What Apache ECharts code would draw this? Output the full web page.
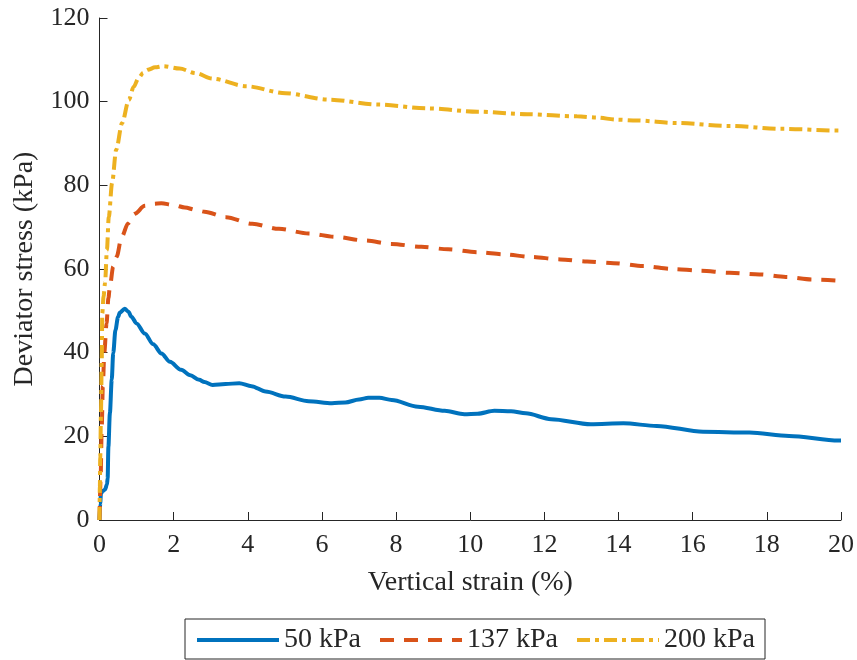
<!DOCTYPE html>
<html>
<head>
<meta charset="utf-8">
<script src="https://cdn.jsdelivr.net/npm/echarts@6/dist/echarts.min.js"></script>
<style>
  html, body { margin: 0; padding: 0; background: #fff; }
  #chart { width: 857px; height: 660px; }
</style>
</head>
<body>
<div id="chart"></div>
<script>
// Deviator stress (kPa) against vertical strain (%) for three confining pressures
const seriesNames = ['50 kPa', '137 kPa', '200 kPa'];

const strain50 = [0, 0.02, 0.04, 0.1, 0.15, 0.2, 0.22, 0.24, 0.28, 0.33, 0.37, 0.43, 0.5, 0.55, 0.68, 0.78, 0.86, 1.0, 1.22, 1.45, 1.67, 1.9, 2.2, 2.45, 2.69, 2.83, 3.05, 3.4, 3.77, 4.1, 4.48, 5.02, 5.64, 6.27, 6.63, 7.0, 7.25, 7.55, 7.88, 8.59, 9.31, 9.84, 10.2, 10.65, 11.1, 11.5, 12.18, 13.25, 14.13, 15.03, 16.28, 17.53, 18.6, 19.94, 20];
const stress50 = [0, 4, 6.4, 7, 7.3, 8.5, 10, 17.5, 25.5, 33.5, 39.9, 45.4, 48.5, 49.6, 50.5, 49.8, 48.6, 47, 44.6, 42, 39.8, 37.8, 35.9, 34.6, 33.5, 33.0, 32.3, 32.5, 32.7, 32, 30.7, 29.5, 28.4, 27.9, 28.1, 28.8, 29.2, 29.2, 28.7, 27.1, 26.1, 25.3, 25.4, 26.1, 26, 25.5, 24.1, 22.9, 23.1, 22.5, 21.1, 20.9, 20.1, 19.0, 19.0];

const strain137 = [0, 0.03, 0.06, 0.09, 0.13, 0.19, 0.24, 0.28, 0.37, 0.46, 0.6, 0.77, 0.95, 1.22, 1.45, 1.67, 2.0, 2.3, 2.61, 2.83, 3.41, 4.12, 4.84, 5.64, 6.36, 7.16, 7.88, 8.68, 9.4, 10.2, 10.92, 11.63, 12.43, 13.15, 13.87, 14.67, 15.47, 16.19, 16.99, 17.8, 18.51, 19.23, 20];
const stress137 = [0, 10, 22, 32, 40, 47, 53, 55.8, 60.6, 62.9, 67.7, 70.9, 73.2, 75.1, 75.6, 75.7, 75.3, 74.7, 74.1, 73.7, 72.4, 70.8, 69.6, 68.5, 67.7, 66.8, 66, 65.3, 64.7, 64, 63.5, 62.9, 62.3, 61.8, 61.4, 60.7, 60, 59.6, 59.1, 58.7, 58.1, 57.5, 57.2];

const strain200 = [0, 0.01, 0.02, 0.04, 0.06, 0.075, 0.11, 0.15, 0.2, 0.25, 0.34, 0.45, 0.61, 0.79, 0.92, 1.05, 1.18, 1.3, 1.5, 1.72, 2.16, 2.6, 3.05, 3.95, 5.02, 6.18, 7.52, 8.86, 10.2, 11.54, 12.88, 13.42, 13.95, 14.49, 15.56, 16.99, 18.42, 19.94, 20];
const stress200 = [0, 8, 15, 25.6, 38, 49.4, 53.5, 56.7, 64.5, 72.4, 80.6, 88.5, 94.9, 100.4, 103.5, 105.6, 106.9, 107.6, 108.2, 108.5, 107.9, 106.8, 105.5, 103.7, 102, 100.5, 99.3, 98.4, 97.6, 97, 96.5, 96.2, 95.7, 95.5, 94.9, 94.2, 93.5, 93.1, 93.0];

const xTicks = { min: 0, max: 20, interval: 2 };
const yTicks = { min: 0, max: 120, interval: 20 };

const pair = (xs, ys) => xs.map((x, i) => [x, ys[i]]);

const serif = '"Liberation Serif", "DejaVu Serif", serif';
const ink = '#262626';
const colors = ['#0072BD', '#D95319', '#EDB120'];
const dashes = ['solid', [14, 10], [13, 5, 4, 5]];

const chart = echarts.init(document.getElementById('chart'), null, { renderer: 'canvas' });

chart.setOption({
  animation: false,
  backgroundColor: '#ffffff',
  grid: { left: 99.5, right: 12, top: 18, bottom: 140, containLabel: false },
  xAxis: {
    type: 'value',
    min: xTicks.min, max: xTicks.max, interval: xTicks.interval,
    name: 'Vertical strain (%)',
    nameLocation: 'middle',
    nameGap: 49,
    nameTextStyle: { fontFamily: serif, fontSize: 28, color: ink },
    axisLine: { show: true, lineStyle: { color: ink, width: 1 } },
    axisTick: { show: true, inside: true, length: 8, lineStyle: { color: ink } },
    axisLabel: { fontFamily: serif, fontSize: 26, color: ink, margin: 12 },
    splitLine: { show: false }
  },
  yAxis: {
    type: 'value',
    min: yTicks.min, max: yTicks.max, interval: yTicks.interval,
    name: 'Deviator stress (kPa)',
    nameLocation: 'middle',
    nameGap: 61,
    nameTextStyle: { fontFamily: serif, fontSize: 28, color: ink },
    axisLine: { show: true, lineStyle: { color: ink, width: 1 } },
    axisTick: { show: true, inside: true, length: 8, lineStyle: { color: ink } },
    axisLabel: { fontFamily: serif, fontSize: 26, color: ink, margin: 10 },
    splitLine: { show: false }
  },
  legend: {
    left: 185,
    top: 619,
    orient: 'horizontal',
    padding: [7, 10, 5, 10],
    itemGap: 17,
    itemWidth: 82,
    itemHeight: 14,
    borderColor: ink,
    borderWidth: 1,
    itemStyle: { opacity: 0 },
    textStyle: { fontFamily: serif, fontSize: 28, color: ink },
    data: seriesNames.map((name, i) => ({
      name,
      itemStyle: { opacity: 0 },
      lineStyle: { color: colors[i], width: 4, type: dashes[i], opacity: 1 }
    }))
  },
  series: seriesNames.map((name, i) => ({
    name,
    type: 'line',
    data: [pair(strain50, stress50), pair(strain137, stress137), pair(strain200, stress200)][i],
    showSymbol: false,
    symbol: 'none',
    smooth: 0.3,
    smoothMonotone: 'x',
    lineStyle: { color: colors[i], width: 4, type: dashes[i] },
    itemStyle: { color: colors[i] }
  }))
});
</script>
</body>
</html>
